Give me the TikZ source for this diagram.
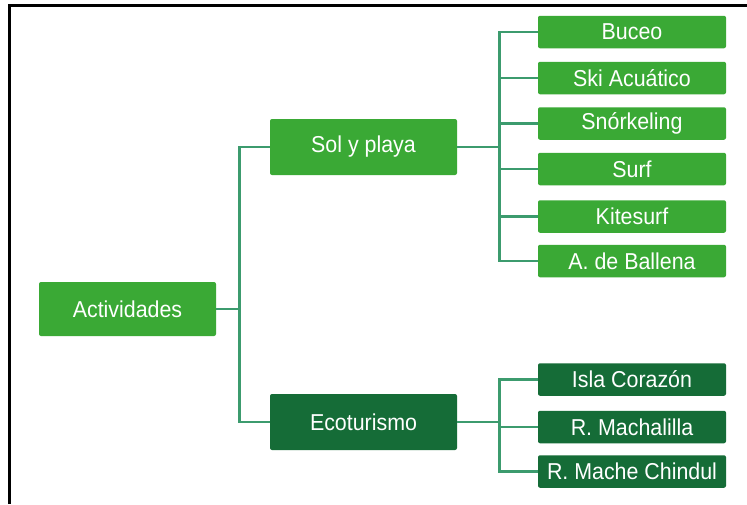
\documentclass[tikz,border=0pt]{standalone}
\usepackage{fontspec}
\setmainfont{Liberation Sans}[FakeStretch=0.93]
\definecolor{leafgreen}{HTML}{3AA935}
\definecolor{darkgreen}{HTML}{156C37}
\definecolor{linkgreen}{HTML}{3C9B6E}
\begin{document}
\begin{tikzpicture}[x=1pt,y=-1pt,
  box/.style={rectangle, rounded corners=2pt, fill=leafgreen, text=white,
    inner sep=0pt, font=\fontsize{23}{27}\selectfont},
  rootbox/.style={box, minimum width=177pt, minimum height=54pt},
  midbox/.style={box, minimum width=187pt, minimum height=56pt},
  leafbox/.style={box, minimum width=188pt, minimum height=32.5pt},
  darkbox/.style={fill=darkgreen},
  link/.style={draw=linkgreen, line width=2.8pt},
  frameline/.style={draw=black, line width=3pt}]
\useasboundingbox (0,0) rectangle (747,504);
\fill[white] (0,0) rectangle (747,504);
% open frame: top and left sides only
\draw[frameline] (9.5,504) -- (9.5,5.5) -- (747,5.5);

% tree nodes
\node[rootbox] (act) at (127.5,309) {Actividades};
\node[midbox] (sol) at (363.5,147) {Sol y playa};
\node[midbox, darkbox] (eco) at (363.5,422) {Ecoturismo};

\node[leafbox] (buceo) at (632,32) {Buceo};
\node[leafbox] (ski)   at (632,78) {Ski Acuático};
\node[leafbox] (snork) at (632,123.5) {Snórkeling};
\node[leafbox] (surf)  at (632,169) {Surf};
\node[leafbox] (kite)  at (632,216.5) {Kitesurf};
\node[leafbox] (ball)  at (632,261) {A. de Ballena};

\node[leafbox, darkbox] (isla) at (632,379.5) {Isla Corazón};
\node[leafbox, darkbox] (mach) at (632,427) {R. Machalilla};
\node[leafbox, darkbox] (chin) at (632,471.5) {R. Mache Chindul};

% connectors
\draw[link] (act.east) -- ++(23,0) |- (sol.west);
\draw[link] (act.east) -- ++(23,0) |- (eco.west);
\foreach \n in {buceo,ski,snork,surf,kite,ball}
  \draw[link] (sol.east) -- ++(42,0) |- (\n.west);
\foreach \n in {isla,mach,chin}
  \draw[link] (eco.east) -- ++(42,0) |- (\n.west);
\end{tikzpicture}
\end{document}
